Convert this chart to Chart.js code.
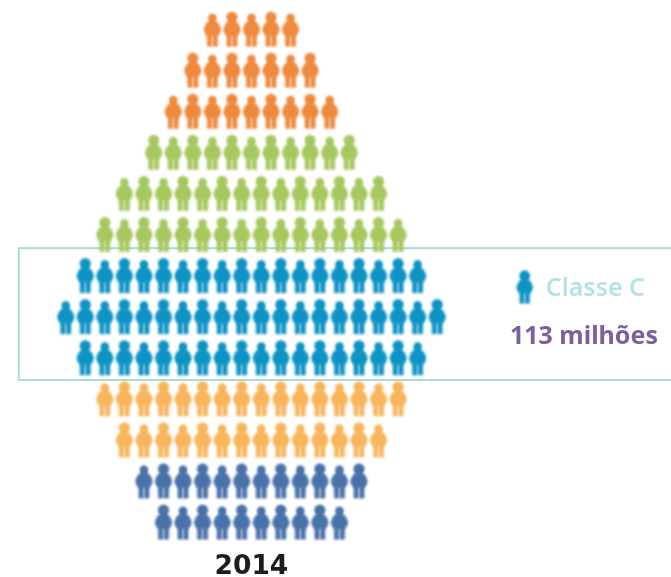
<!DOCTYPE html>
<html lang="pt">
<head>
<meta charset="utf-8">
<title>Classe C 2014</title>
<script src="https://cdn.jsdelivr.net/npm/chart.js@4"></script>
<style>html,body{margin:0;padding:0;background:#fff}canvas{display:block}</style>
</head>
<body>
<canvas id="c" width="671" height="577"></canvas>
<script>
// Data: number of figures in each row, grouped by class (top to bottom)
const rowsOrange = [5, 7, 9];
const rowsGreen = [11, 14, 16];
const rowsBlue = [18, 20, 18];
const rowsAmber = [16, 14];
const rowsNavy = [12, 10];
// whether the first figure in each row is the large-headed variant
const rowStartsLarge = [0, 1, 0, 1, 0, 1, 1, 0, 1, 0, 1, 0, 1];
const yearLabel = "2014";
const highlightLabel = "Classe C";
const highlightValue = "113 milhões";

const COLORS = { orange: "#ee8a3e", green: "#a6c85f", blue: "#0e93c5", amber: "#f9b55c", navy: "#4a72aa" };

function sprite(color, large, scale) {
  const s = scale || 1, c = document.createElement("canvas");
  c.width = Math.ceil(24 * s); c.height = Math.ceil(42 * s);
  const x = c.getContext("2d");
  x.scale(s, s);
  x.translate(12, 21);
  x.filter = "blur(0.8px)";
  x.fillStyle = color;
  const top = large ? -17.5 : -15.5, r = large ? 5.6 : 4.2;
  x.beginPath(); x.arc(0, top + r, r, 0, 7); x.fill();
  x.fillRect(-3.2, top + r, 6.4, 8);
  x.beginPath();
  x.moveTo(-4.2, -7.5);
  x.quadraticCurveTo(-8.3, -4, -8.6, 1);
  x.quadraticCurveTo(-8.2, 4.5, -5.4, 7);
  x.lineTo(5.4, 7);
  x.quadraticCurveTo(8.2, 4.5, 8.6, 1);
  x.quadraticCurveTo(8.3, -4, 4.2, -7.5);
  x.closePath();
  x.fill();
  x.fillRect(-5.4, 5, 5.1, 12.5);
  x.fillRect(0.3, 5, 5.1, 12.5);
  return c;
}
const sprites = {};
for (const k of Object.keys(COLORS)) sprites[k] = [sprite(COLORS[k], false), sprite(COLORS[k], true)];

let rowCursor = 0;
function buildClass(label, counts, colorKey) {
  const data = [], styles = [];
  for (const n of counts) {
    for (let i = 0; i < n; i++) {
      data.push({ x: i - (n - 1) / 2, y: rowCursor });
      styles.push(sprites[colorKey][(i + rowStartsLarge[rowCursor]) % 2]);
    }
    rowCursor++;
  }
  return { label, data, pointStyle: styles, showLine: false, pointRadius: 10 };
}

const datasets = [
  buildClass("Classe A", rowsOrange, "orange"),
  buildClass("Classe B", rowsGreen, "green"),
  buildClass("Classe C", rowsBlue, "blue"),
  buildClass("Classe D", rowsAmber, "amber"),
  buildClass("Classe E", rowsNavy, "navy")
];
// Legend figure beside the highlighted band
datasets.push({
  label: "Legenda",
  data: [{ x: 13.98, y: 6.28 }],
  pointStyle: sprite(COLORS.blue, true, 0.95),
  showLine: false, pointRadius: 10
});

const overlay = {
  id: "overlay",
  beforeDatasetsDraw(ch) {
    const { ctx, scales: { x, y } } = ch;
    ctx.save();
    ctx.strokeStyle = "#a9dcd6"; ctx.lineWidth = 2;
    const l = x.getPixelForValue(-11.9), r = x.getPixelForValue(21.6);
    const t = y.getPixelForValue(5.335), b = y.getPixelForValue(8.545);
    ctx.strokeRect(l, t, r - l, b - t);
    ctx.restore();
  },
  afterDatasetsDraw(ch) {
    const { ctx, scales: { x, y } } = ch;
    ctx.save();
    ctx.textBaseline = "middle"; ctx.textAlign = "left";
    ctx.fillStyle = "#b4e2e6"; ctx.font = "600 25px 'Noto Sans'";
    ctx.fillText(highlightLabel, x.getPixelForValue(15.05), y.getPixelForValue(6.33));
    ctx.fillStyle = "#7d5f9d"; ctx.font = "bold 25px 'Noto Sans'";
    ctx.fillText(highlightValue, x.getPixelForValue(13.22), y.getPixelForValue(7.5));
    ctx.textAlign = "center";
    ctx.fillStyle = "#1c1c1c"; ctx.font = "bold 26.5px 'DejaVu Sans'";
    ctx.fillText(yearLabel, x.getPixelForValue(0), y.getPixelForValue(13.1));
    ctx.restore();
  }
};

new Chart(document.getElementById("c"), {
  type: "scatter",
  data: { datasets },
  plugins: [overlay],
  options: {
    responsive: false,
    animation: false,
    events: [],
    layout: { padding: 0, autoPadding: false },
    plugins: { legend: { display: false }, tooltip: { enabled: false } },
    scales: {
      x: { type: "linear", display: false, min: -12.86, max: 21.46 },
      y: { type: "linear", display: false, reverse: true, min: -0.706, max: 13.34 }
    }
  }
});
</script>
</body>
</html>
